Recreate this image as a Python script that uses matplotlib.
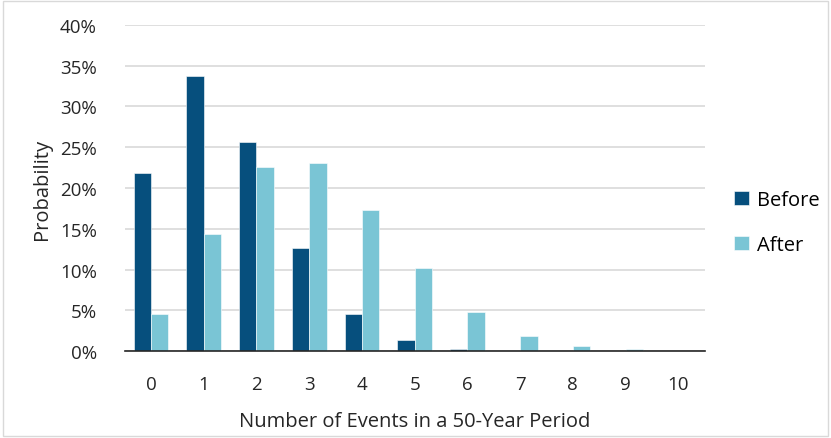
import matplotlib.pyplot as plt
import numpy as np
from matplotlib.patches import Rectangle

events = [0, 1, 2, 3, 4, 5, 6, 7, 8, 9, 10]
before = [21.8, 33.7, 25.6, 12.6, 4.6, 1.3, 0.25, 0.05, 0.0, 0.0, 0.0]
after = [4.5, 14.4, 22.6, 23.1, 17.3, 10.2, 4.8, 1.9, 0.6, 0.2, 0.05]
yticks = [0, 5, 10, 15, 20, 25, 30, 35, 40]

plt.rcParams['font.family'] = ['Open Sans', 'DejaVu Sans']

fig = plt.figure(figsize=(8.31, 4.39), dpi=100)
fig.patches.append(Rectangle((0.004, 0.004), 0.992, 0.992, transform=fig.transFigure,
                             fill=False, edgecolor='#d9d9d9', linewidth=1))
ax = fig.add_axes([0.150, 0.198, 0.698, 0.743])

x = np.arange(len(events))
w = 0.33
ax.bar(x - w / 2, before, w, color='#064f7d', label='Before', edgecolor='white', linewidth=0.4)
ax.bar(x + w / 2, after, w, color='#7ac5d5', label='After', edgecolor='white', linewidth=0.4)

ax.set_xlim(-0.5, len(events) - 0.5)
ax.set_ylim(0, 40)
ax.set_yticks(yticks)
ax.set_yticklabels([f'{v}%' for v in yticks])
ax.set_xticks(x)
ax.set_xticklabels([str(e) for e in events])
ax.yaxis.grid(True, color='#d9d9d9', linewidth=1.2)
ax.set_axisbelow(True)
for s in ['top', 'right', 'left']:
    ax.spines[s].set_visible(False)
ax.spines['bottom'].set_color('#262626')
ax.spines['bottom'].set_linewidth(1.2)
ax.tick_params(axis='both', length=0, labelsize=13.5, colors='#262626')
ax.tick_params(axis='y', pad=20)
ax.tick_params(axis='x', pad=17)

ax.set_xlabel('Number of Events in a 50-Year Period', fontsize=14.5, color='#262626', labelpad=13)
ax.set_ylabel('Probability', fontsize=14.5, color='#262626', labelpad=6)

ax.legend(loc='center left', bbox_to_anchor=(1.02, 0.395), frameon=False, fontsize=14.5,
          handlelength=0.7, handleheight=0.7, labelspacing=1.25, handletextpad=0.4)

fig.savefig('out.png', dpi=100)
